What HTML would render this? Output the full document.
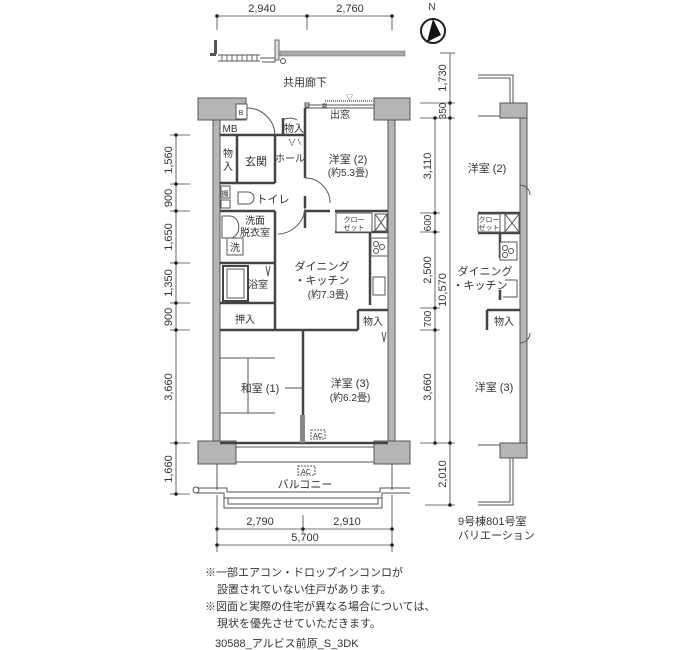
<!DOCTYPE html>
<html><head><meta charset="utf-8"><style>
body{margin:0;background:#fff;}
svg{display:block;}
text{font-family:"Liberation Sans","Noto Sans CJK JP",sans-serif;fill:#333;}
.w{fill:#b5b5b5;stroke:#555;stroke-width:1;}
.l{stroke:#555;stroke-width:1;fill:none;}
.t{stroke:#444;stroke-width:2.5;fill:none;}
.d{stroke:#444;stroke-width:0.8;fill:none;}
.s{font-size:11px;}
.m{font-size:10px;}
</style></head><body>
<svg width="700" height="650" viewBox="0 0 700 650">
<!-- top dims -->
<g class="d"><line x1="217" y1="16" x2="392" y2="16"/><line x1="217" y1="16" x2="217" y2="30"/><line x1="307" y1="16" x2="307" y2="30"/><line x1="392" y1="16" x2="392" y2="30"/></g>
<g fill="#222"><circle cx="217" cy="16" r="1.8"/><circle cx="307" cy="16" r="1.8"/><circle cx="392" cy="16" r="1.8"/></g>
<text x="262" y="12" class="s" text-anchor="middle">2,940</text>
<text x="350" y="12" class="s" text-anchor="middle">2,760</text>
<!-- north -->
<text x="432" y="10" class="m" text-anchor="middle">N</text>
<circle cx="433" cy="31" r="12" fill="#fff" stroke="#222" stroke-width="2"/>
<polygon points="433,19 427,42 441,35" fill="#111"/>
<!-- corridor -->
<rect x="214" y="40" width="3" height="14" fill="#555"/>
<rect x="210" y="53" width="6" height="3" fill="#555"/>
<g class="l"><line x1="218" y1="55" x2="260" y2="55"/><line x1="218" y1="61" x2="260" y2="61"/></g>
<g stroke="#666" stroke-width="1"><line x1="222" y1="55" x2="222" y2="61"/><line x1="227" y1="55" x2="227" y2="61"/><line x1="232" y1="55" x2="232" y2="61"/><line x1="237" y1="55" x2="237" y2="61"/><line x1="242" y1="55" x2="242" y2="61"/><line x1="247" y1="55" x2="247" y2="61"/><line x1="252" y1="55" x2="252" y2="61"/><line x1="257" y1="55" x2="257" y2="61"/></g>
<path d="M260,58 H275 V62 H262" class="l"/>
<rect x="275" y="40" width="4" height="20" fill="#ddd" stroke="#666"/>
<circle cx="283" cy="61" r="2.5" class="l"/>
<rect x="280" y="51" width="125" height="5" fill="#aaa" stroke="#666" stroke-width="0.5"/>
<text x="305" y="86" class="s" text-anchor="middle">共用廊下</text>
<!-- left dims -->
<g class="d"><line x1="176" y1="135" x2="176" y2="494"/>
<line x1="170" y1="135" x2="190" y2="135"/><line x1="170" y1="184" x2="190" y2="184"/><line x1="170" y1="211" x2="190" y2="211"/><line x1="170" y1="263" x2="190" y2="263"/><line x1="170" y1="303" x2="190" y2="303"/><line x1="170" y1="330" x2="190" y2="330"/><line x1="170" y1="443" x2="190" y2="443"/><line x1="170" y1="494" x2="190" y2="494"/></g>
<g fill="#222"><circle cx="176" cy="135" r="1.8"/><circle cx="176" cy="184" r="1.8"/><circle cx="176" cy="211" r="1.8"/><circle cx="176" cy="263" r="1.8"/><circle cx="176" cy="303" r="1.8"/><circle cx="176" cy="330" r="1.8"/><circle cx="176" cy="443" r="1.8"/><circle cx="176" cy="494" r="1.8"/></g>
<g class="s" text-anchor="middle">
<text transform="translate(172,160) rotate(-90)">1,560</text>
<text transform="translate(172,198) rotate(-90)">900</text>
<text transform="translate(172,237) rotate(-90)">1,650</text>
<text transform="translate(172,283) rotate(-90)">1,350</text>
<text transform="translate(172,317) rotate(-90)">900</text>
<text transform="translate(172,387) rotate(-90)">3,660</text>
<text transform="translate(172,469) rotate(-90)">1,660</text>
</g>
<!-- right dims -->
<g class="d"><line x1="435" y1="118" x2="435" y2="443"/><line x1="450" y1="53" x2="450" y2="505"/>
<line x1="420" y1="103" x2="455" y2="103"/><line x1="420" y1="118" x2="455" y2="118"/><line x1="420" y1="213" x2="440" y2="213"/><line x1="420" y1="232" x2="440" y2="232"/><line x1="420" y1="308" x2="440" y2="308"/><line x1="420" y1="330" x2="440" y2="330"/><line x1="420" y1="443" x2="455" y2="443"/><line x1="425" y1="505" x2="455" y2="505"/><line x1="440" y1="53" x2="455" y2="53"/></g>
<g fill="#222"><circle cx="435" cy="118" r="1.8"/><circle cx="435" cy="213" r="1.8"/><circle cx="435" cy="232" r="1.8"/><circle cx="435" cy="308" r="1.8"/><circle cx="435" cy="330" r="1.8"/><circle cx="435" cy="443" r="1.8"/><circle cx="450" cy="103" r="1.8"/><circle cx="450" cy="118" r="1.8"/><circle cx="450" cy="443" r="1.8"/><circle cx="450" cy="505" r="1.8"/></g>
<g class="s" text-anchor="middle">
<text transform="translate(446,78) rotate(-90)">1,730</text>
<text transform="translate(446,111) rotate(-90)" class="m">350</text>
<text transform="translate(431,166) rotate(-90)">3,110</text>
<text transform="translate(431,223) rotate(-90)" class="m">600</text>
<text transform="translate(431,270) rotate(-90)">2,500</text>
<text transform="translate(446,290) rotate(-90)">10,570</text>
<text transform="translate(431,319) rotate(-90)" class="m">700</text>
<text transform="translate(431,387) rotate(-90)">3,660</text>
<text transform="translate(446,474) rotate(-90)">2,010</text>
</g>
<!-- bottom dims -->
<g class="d"><line x1="217" y1="495" x2="217" y2="552"/><line x1="392" y1="495" x2="392" y2="552"/><line x1="303" y1="515" x2="303" y2="533"/>
<line x1="217" y1="529" x2="392" y2="529"/><line x1="217" y1="545" x2="392" y2="545"/></g>
<g fill="#222"><circle cx="217" cy="529" r="1.8"/><circle cx="303" cy="529" r="1.8"/><circle cx="392" cy="529" r="1.8"/><circle cx="217" cy="545" r="1.8"/><circle cx="392" cy="545" r="1.8"/></g>
<text x="260" y="525" class="s" text-anchor="middle">2,790</text>
<text x="347" y="525" class="s" text-anchor="middle">2,910</text>
<text x="305" y="541" class="s" text-anchor="middle">5,700</text>
<!-- main walls -->
<rect class="w" x="213" y="118" width="7" height="325"/>
<rect class="w" x="388" y="118" width="7" height="325"/>
<rect class="w" x="198" y="98" width="48" height="22"/>
<rect class="w" x="374" y="98" width="36" height="22"/>
<rect class="w" x="198" y="441" width="38" height="23"/>
<rect class="w" x="374" y="441" width="36" height="23"/>
<!-- top window -->
<line x1="325" y1="101" x2="374" y2="101" stroke="#888" stroke-width="2" stroke-dasharray="1,1"/>
<text x="346" y="100" font-size="7">▽</text>
<g class="l"><line x1="305" y1="105" x2="374" y2="105"/><line x1="305" y1="108" x2="374" y2="108"/><rect x="305" y="103" width="4" height="4"/><rect x="323" y="104" width="3" height="3"/></g>
<text x="340" y="118" class="m" text-anchor="middle">出窓</text>
<!-- interior walls -->
<g class="t">
<line x1="305" y1="108" x2="305" y2="178"/>
<line x1="305" y1="196" x2="305" y2="208"/>
<line x1="220" y1="135" x2="305" y2="135"/>
<line x1="283" y1="118" x2="283" y2="135"/>
<line x1="275" y1="135" x2="275" y2="183"/>
<line x1="237" y1="135" x2="237" y2="183"/>
<line x1="220" y1="183" x2="275" y2="183"/>
<line x1="220" y1="211" x2="275" y2="211"/>
<line x1="275" y1="211" x2="275" y2="330"/>
<line x1="305" y1="211" x2="330" y2="211"/>
<line x1="305" y1="211" x2="305" y2="228"/>
<line x1="220" y1="263" x2="275" y2="263"/>
<line x1="220" y1="303" x2="275" y2="303"/>
<line x1="220" y1="330" x2="358" y2="330"/>
<line x1="358" y1="310" x2="358" y2="330"/>
<line x1="358" y1="310" x2="388" y2="310"/>
<line x1="303" y1="330" x2="303" y2="443"/>
<line x1="335" y1="232" x2="388" y2="232"/>
<line x1="335" y1="211" x2="388" y2="211"/>
<line x1="370" y1="232" x2="370" y2="305"/>
<line x1="220" y1="443" x2="388" y2="443"/>
</g>
<rect x="236" y="104" width="11" height="15" fill="#fff" stroke="#555"/>
<text x="241" y="115" font-size="7" text-anchor="middle">B</text>
<text x="230" y="132" class="m" text-anchor="middle">MB</text>
<path d="M247,108 A28,28 0 0,1 275,135" class="l"/>
<path d="M283,120 A14,14 0 0,1 297,120" class="l"/>
<text x="294" y="132" class="m" text-anchor="middle">物入</text>
<path d="M289,139 L292,145 L295,139 M298,139 L301,145" class="l" stroke-dasharray="2,1"/>
<text x="228" y="157" class="m" text-anchor="middle">物</text>
<text x="228" y="170" class="m" text-anchor="middle">入</text>
<text x="256" y="165" class="s" text-anchor="middle">玄関</text>
<text x="290" y="162" class="m" text-anchor="middle">ホール</text>
<text x="348" y="163" class="s" text-anchor="middle">洋室 (2)</text>
<text x="348" y="176" class="m" text-anchor="middle">(約5.3畳)</text>
<path d="M305,178 A25,25 0 0,1 330,203" class="l"/>
<rect x="221" y="186" width="9" height="12" fill="#fff" stroke="#555"/>
<text x="225" y="196" font-size="7" text-anchor="middle">棚</text>
<rect x="221" y="200" width="9" height="8" fill="#fff" stroke="#555"/>
<path d="M238,192 H248 A6,6 0 1,1 248,204 H238 Z" class="l"/>
<text x="273" y="203" class="s" text-anchor="middle">トイレ</text>
<path d="M305,208 A28,28 0 0,1 278,234" class="l"/>
<path d="M222,216 h8 a8,10 0 0,1 0,22 h-8 z" class="l"/>
<text x="255" y="224" class="m" text-anchor="middle">洗面</text>
<text x="255" y="236" class="m" text-anchor="middle">脱衣室</text>
<rect x="227" y="238" width="16" height="17" fill="#fff" stroke="#555"/>
<text x="235" y="251" class="m" text-anchor="middle">洗</text>
<rect x="223" y="266" width="25" height="35" fill="#fff" stroke="#444" stroke-width="2"/>
<rect x="227" y="269" width="17" height="29" class="l"/>
<text x="258" y="288" class="m" text-anchor="middle">浴室</text>
<path d="M266,266 L268,276 L270,266" class="l"/>
<text x="245" y="323" class="m" text-anchor="middle">押入</text>
<rect x="336" y="213" width="36" height="19" fill="#fff" stroke="#555"/>
<text x="354" y="222" font-size="7" text-anchor="middle">クロー</text>
<text x="354" y="230" font-size="7" text-anchor="middle">ゼット</text>
<rect x="375" y="214" width="12" height="17" fill="#fff" stroke="#555"/>
<path d="M375,214 L387,231 M387,214 L375,231" class="l"/>
<rect x="371" y="238" width="17" height="18" fill="#fff" stroke="#555"/>
<circle cx="376" cy="244" r="2.5" class="l"/><circle cx="382" cy="247" r="2.5" class="l"/><circle cx="376" cy="251" r="2.5" class="l"/>
<rect x="373" y="277" width="12" height="18" fill="#fff" stroke="#555"/>
<text x="322" y="270" class="s" text-anchor="middle">ダイニング</text>
<text x="322" y="284" class="s" text-anchor="middle">・キッチン</text>
<text x="328" y="298" class="m" text-anchor="middle">(約7.3畳)</text>
<text x="373" y="325" class="m" text-anchor="middle">物入</text>
<path d="M382,332 L384,342 L386,332" class="l"/>
<!-- tatami -->
<g class="l"><line x1="220" y1="358" x2="275" y2="358"/><line x1="220" y1="413" x2="275" y2="413"/><line x1="248" y1="358" x2="248" y2="413"/></g>
<text x="260" y="392" class="s" text-anchor="middle">和室 (1)</text>
<line x1="285" y1="388" x2="303" y2="388" class="l"/>
<rect x="300" y="415" width="5" height="28" fill="#888"/>
<rect x="311" y="430" width="14" height="9" fill="#fff" stroke="#555" stroke-dasharray="2,1"/>
<text x="318" y="438" font-size="7" text-anchor="middle">AC</text>
<text x="350" y="387" class="s" text-anchor="middle">洋室 (3)</text>
<text x="350" y="401" class="m" text-anchor="middle">(約6.2畳)</text>
<!-- balcony -->
<g class="l"><line x1="236" y1="447" x2="374" y2="447"/><line x1="236" y1="462" x2="374" y2="462"/><line x1="217" y1="464" x2="217" y2="490"/><line x1="392" y1="464" x2="392" y2="490"/></g>
<rect x="298" y="466" width="17" height="9" fill="#fff" stroke="#555" stroke-dasharray="2,1"/>
<text x="306" y="474" font-size="7" text-anchor="middle">AC</text>
<text x="305" y="488" class="s" text-anchor="middle">バルコニー</text>
<path d="M197,488 H227 V492 H380 V488 H410 M197,493 H224 V498 H382 V493 H410" class="l"/>
<path d="M224,498 V508 H382 V498 M228,498 V504 H378 V498" class="l"/>
<circle cx="196" cy="490" r="3" class="l"/>
<!-- variation -->
<rect class="w" x="520" y="103" width="7" height="340"/>
<rect class="w" x="500" y="103" width="27" height="15"/>
<rect class="w" x="500" y="443" width="27" height="15"/>
<g class="l"><path d="M478,75 H513 V103 M478,78 H510 V103"/><path d="M478,505 H513 V458 M478,502 H510 V458"/>
<line x1="478" y1="116" x2="500" y2="116"/><line x1="478" y1="445" x2="500" y2="445"/>
<path d="M520,185 A10,10 0 0,1 530,195"/><path d="M520,343 A10,10 0 0,0 530,333"/></g>
<text x="487" y="172" class="s" text-anchor="middle">洋室 (2)</text>
<g class="t"><line x1="478" y1="213" x2="520" y2="213"/><line x1="478" y1="233" x2="520" y2="233"/><line x1="500" y1="233" x2="500" y2="258"/><line x1="487" y1="310" x2="520" y2="310"/><line x1="487" y1="310" x2="487" y2="330"/><line x1="500" y1="290" x2="500" y2="300"/></g>
<rect x="478" y="214" width="22" height="18" fill="#fff" stroke="#555"/>
<text x="489" y="222" font-size="7" text-anchor="middle">クロー</text>
<text x="489" y="230" font-size="7" text-anchor="middle">ゼット</text>
<rect x="505" y="214" width="14" height="18" fill="#fff" stroke="#555"/>
<path d="M505,214 L519,232 M519,214 L505,232" class="l"/>
<rect x="500" y="242" width="17" height="18" fill="#fff" stroke="#555"/>
<circle cx="505" cy="248" r="2.5" class="l"/><circle cx="511" cy="251" r="2.5" class="l"/><circle cx="505" cy="255" r="2.5" class="l"/>
<path d="M505,280 H517 V297 H503" class="l"/>
<text x="485" y="275" class="s" text-anchor="middle">ダイニング</text>
<text x="480" y="289" class="s" text-anchor="middle">・キッチン</text>
<text x="504" y="325" class="m" text-anchor="middle">物入</text>
<text x="494" y="391" class="s" text-anchor="middle">洋室 (3)</text>
<text x="458" y="525" class="s">9号棟801号室</text>
<text x="458" y="539" class="s">バリエーション</text>
<!-- notes -->
<text x="205" y="576" class="s">※一部エアコン・ドロップインコンロが</text>
<text x="217" y="593" class="s">設置されていない住戸があります。</text>
<text x="205" y="610" class="s">※図面と実際の住宅が異なる場合については、</text>
<text x="217" y="627" class="s">現状を優先させていただきます。</text>
<text x="215" y="647" class="s">30588_アルビス前原_S_3DK</text>
</svg>
</body></html>
